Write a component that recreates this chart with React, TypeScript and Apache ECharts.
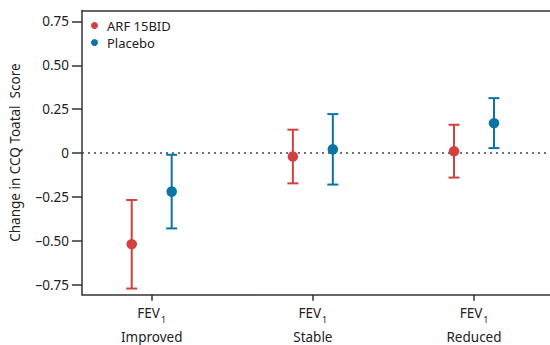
import React, { useEffect, useRef } from "react";
import * as echarts from "echarts";

const categories = ["Improved", "Stable", "Reduced"];
const seriesNames = ["ARF 15BID", "Placebo"];
const arfMean = [-0.52, -0.02, 0.01];
const arfLow = [-0.773, -0.173, -0.14];
const arfHigh = [-0.268, 0.133, 0.161];
const plaMean = [-0.22, 0.021, 0.17];
const plaLow = [-0.43, -0.18, 0.028];
const plaHigh = [-0.01, 0.222, 0.313];
const yTicks = [-0.75, -0.5, -0.25, 0, 0.25, 0.5, 0.75];

const RED = "#d2403f";
const BLUE = "#0a74a7";
const FONT = "Noto Sans";
const DODGE = 0.124;

function fmtY(v: number): string {
  if (Math.abs(v) < 1e-9) return "0";
  const s = Math.abs(v).toFixed(2);
  return v < 0 ? "\u2013" + s : s;
}

function errSeries(name: string, low: number[], high: number[], off: number, color: string) {
  return {
    type: "custom",
    name: name + "-err",
    z: 2,
    data: low.map((l, i) => [i + 1 + off, l, high[i]]),
    renderItem: (params: any, api: any) => {
      const x = api.value(0);
      const pLo = api.coord([x, api.value(1)]);
      const pHi = api.coord([x, api.value(2)]);
      const hw = 5.5;
      const st = { stroke: color, lineWidth: 2 };
      return {
        type: "group",
        children: [
          { type: "line", shape: { x1: pLo[0], y1: pLo[1], x2: pHi[0], y2: pHi[1] }, style: st },
          { type: "line", shape: { x1: pLo[0] - hw, y1: pLo[1], x2: pLo[0] + hw, y2: pLo[1] }, style: st },
          { type: "line", shape: { x1: pHi[0] - hw, y1: pHi[1], x2: pHi[0] + hw, y2: pHi[1] }, style: st },
        ],
      };
    },
  };
}

export default function App() {
  const ref = useRef<HTMLDivElement>(null);
  useEffect(() => {
    document.body.style.margin = "0";
    if (!ref.current) return;
    const chart = echarts.init(ref.current, null, { renderer: "svg" });
    const xMin = 0.5675;
    const xMax = 3.4716;
    const rich = {
      a: { fontFamily: FONT, fontSize: 13.5, color: "#222", lineHeight: 22 },
      s: { fontFamily: FONT, fontSize: 9, color: "#222", lineHeight: 22, verticalAlign: "bottom", padding: [7, 0, 0, 1] },
      b: { fontFamily: FONT, fontSize: 13.5, color: "#222", lineHeight: 27 },
    };
    chart.setOption({
      animation: false,
      textStyle: { fontFamily: FONT },
      grid: { left: 82, right: 0, top: 10.5, bottom: 50.3 },
      legend: {
        data: seriesNames,
        orient: "vertical",
        left: 86,
        top: 14,
        icon: "circle",
        itemWidth: 7,
        itemHeight: 7,
        itemGap: 4,
        textStyle: { fontFamily: FONT, fontSize: 13, color: "#222", padding: [0, 0, 0, 4] },
      },
      xAxis: [
        {
          type: "value",
          min: xMin,
          max: xMax,
          splitLine: { show: false },
          axisLine: { show: true, onZero: false, lineStyle: { color: "#333", width: 1.5 } },
          axisTick: { show: true, customValues: [1, 2, 3], length: 6, lineStyle: { color: "#333", width: 1.5 } },
          axisLabel: {
            customValues: [1, 2, 3],
            margin: 7,
            formatter: (v: number) => "{a|FEV}{s|1}\n{b|" + categories[Math.round(v) - 1] + "}",
            rich,
          },
        },
        {
          type: "value",
          position: "top",
          min: xMin,
          max: xMax,
          splitLine: { show: false },
          axisLine: { show: true, onZero: false, lineStyle: { color: "#333", width: 1.5 } },
          axisTick: { show: false },
          axisLabel: { show: false },
        },
      ],
      yAxis: {
        type: "value",
        min: -0.808,
        max: 0.8127,
        name: "Change in CCQ Toatal  Score",
        nameLocation: "middle",
        nameGap: 60,
        nameTextStyle: { fontFamily: FONT, fontSize: 13.5, color: "#222" },
        splitLine: { show: false },
        axisLine: { show: true, onZero: false, lineStyle: { color: "#333", width: 1.5 } },
        axisTick: { show: true, customValues: yTicks, length: 10, lineStyle: { color: "#333", width: 1.5 } },
        axisLabel: {
          customValues: yTicks,
          formatter: fmtY,
          fontFamily: FONT,
          fontSize: 13.5,
          color: "#222",
          margin: 13,
        },
      },
      series: [
        errSeries(seriesNames[0], arfLow, arfHigh, -DODGE, RED),
        errSeries(seriesNames[1], plaLow, plaHigh, DODGE, BLUE),
        {
          type: "scatter",
          name: seriesNames[0],
          z: 5,
          symbolSize: 10.5,
          itemStyle: { color: RED, opacity: 1 },
          data: arfMean.map((v, i) => [i + 1 - DODGE, v]),
          markLine: {
            silent: true,
            symbol: "none",
            label: { show: false },
            lineStyle: { color: "#444", type: [2, 4], width: 1.6 },
            data: [{ yAxis: 0 }],
          },
        },
        {
          type: "scatter",
          name: seriesNames[1],
          z: 5,
          symbolSize: 10.5,
          itemStyle: { color: BLUE, opacity: 1 },
          data: plaMean.map((v, i) => [i + 1 + DODGE, v]),
        },
      ],
    });
    return () => chart.dispose();
  }, []);
  return <div ref={ref} style={{ width: 550, height: 345 }} />;
}
